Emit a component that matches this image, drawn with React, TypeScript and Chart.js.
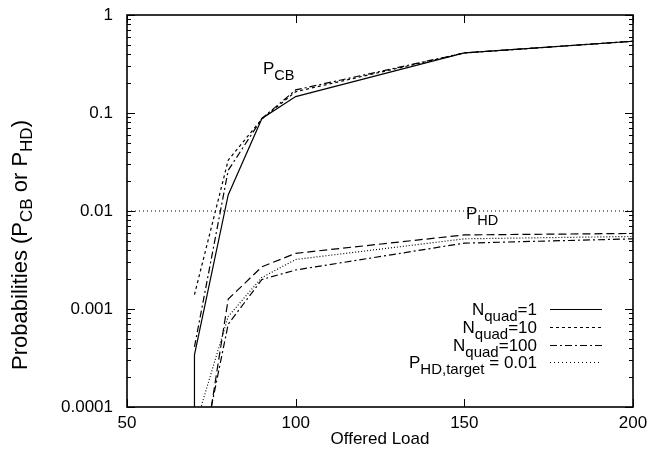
import React, { useEffect, useRef } from "react";
import { Chart, registerables } from "chart.js";

Chart.register(...registerables);

// ---- data ----
const pcbN1Loads = [70, 70, 80, 90, 100, 150, 200];
const pcbN1 = [0.00001, 0.00034, 0.0146, 0.088, 0.147, 0.41, 0.54];
const pcbN10Loads = [70, 80, 90, 100, 150, 200];
const pcbN10 = [0.0014, 0.033, 0.087, 0.165, 0.41, 0.54];
const pcbN100Loads = [70, 80, 90, 100, 150, 200];
const pcbN100 = [0.00041, 0.026, 0.088, 0.172, 0.41, 0.54];

const phdN10Loads = [75, 80, 90, 100, 150, 200];
const phdN10 = [0.0001, 0.00126, 0.0027, 0.0037, 0.0057, 0.0059];
const phdN1Loads = [70, 80, 90, 100, 150, 200];
const phdN1 = [0.00006, 0.00084, 0.0021, 0.0032, 0.0052, 0.0055];
const phdN100Loads = [75, 80, 90, 100, 150, 200];
const phdN100 = [0.0001, 0.0007, 0.002, 0.0025, 0.0047, 0.0052];

const targetLoads = [50, 200];
const targetValues = [0.01, 0.01];

const yTickValues = [0.0001, 0.001, 0.01, 0.1, 1];
const yTickLabels = ["0.0001", "0.001", "0.01", "0.1", "1"];
const xTickValues = [50, 100, 150, 200];

const xTitle = "Offered Load";
const yTitleParts = [
  { t: "Probabilities (P" },
  { t: "CB", sub: true },
  { t: " or P" },
  { t: "HD", sub: true },
  { t: ")" },
];
const legendEntries = [
  [{ t: "N" }, { t: "quad", sub: true }, { t: "=1" }],
  [{ t: "N" }, { t: "quad", sub: true }, { t: "=10" }],
  [{ t: "N" }, { t: "quad", sub: true }, { t: "=100" }],
  [{ t: "P" }, { t: "HD,target", sub: true }, { t: " = 0.01" }],
];
const pcbLabel = [{ t: "P" }, { t: "CB", sub: true }];
const phdLabel = [{ t: "P" }, { t: "HD", sub: true }];

// ---- drawing helpers ----
const FONT = '"Liberation Sans", Arial, Helvetica, sans-serif';
type Part = { t: string; sub?: boolean };

function partsWidth(ctx: CanvasRenderingContext2D, parts: Part[], size: number, subSize: number) {
  let w = 0;
  for (const p of parts) {
    ctx.font = `${p.sub ? subSize : size}px ${FONT}`;
    w += ctx.measureText(p.t).width;
  }
  return w;
}

function drawRich(
  ctx: CanvasRenderingContext2D,
  x: number,
  y: number,
  parts: Part[],
  size: number,
  subSize: number,
  subDy: number,
  align: "left" | "right" | "center"
) {
  const w = partsWidth(ctx, parts, size, subSize);
  let cx = align === "right" ? x - w : align === "center" ? x - w / 2 : x;
  ctx.textAlign = "left";
  ctx.textBaseline = "alphabetic";
  ctx.fillStyle = "#000";
  for (const p of parts) {
    ctx.font = `${p.sub ? subSize : size}px ${FONT}`;
    ctx.fillText(p.t, cx, y + (p.sub ? subDy : 0));
    cx += ctx.measureText(p.t).width;
  }
}

const toPts = (xs: number[], ys: number[]) => xs.map((x, i) => ({ x, y: ys[i] }));

const DASH_N1: number[] = [];
const DASH_N10 = [3, 3];
const DASH_N100 = [7, 3, 2, 3];
const DASH_TARGET = [1, 3];

const zeroPad = (s: any) => {
  s.paddingTop = 0;
  s.paddingBottom = 0;
  s.paddingLeft = 0;
  s.paddingRight = 0;
};

const overlayPlugin = {
  id: "overlay",
  afterDraw(chart: any) {
    const ctx: CanvasRenderingContext2D = chart.ctx;
    const { left, right, top, bottom } = chart.chartArea;
    const xs = chart.scales.x;
    const ys = chart.scales.y;
    ctx.save();
    ctx.strokeStyle = "#000";
    // ticks
    ctx.lineWidth = 1;
    ctx.beginPath();
    for (const v of xTickValues) {
      const px = Math.round(xs.getPixelForValue(v)) + 0.5;
      ctx.moveTo(px, bottom);
      ctx.lineTo(px, bottom - 8);
      ctx.moveTo(px, top);
      ctx.lineTo(px, top + 8);
    }
    for (let e = -4; e <= 0; e++) {
      const py = Math.round(ys.getPixelForValue(Math.pow(10, e))) + 0.5;
      ctx.moveTo(left, py);
      ctx.lineTo(left + 8, py);
      ctx.moveTo(right, py);
      ctx.lineTo(right - 8, py);
      if (e < 0) {
        for (let m = 2; m <= 9; m++) {
          const pm = Math.round(ys.getPixelForValue(m * Math.pow(10, e))) + 0.5;
          ctx.moveTo(left, pm);
          ctx.lineTo(left + 4, pm);
          ctx.moveTo(right, pm);
          ctx.lineTo(right - 4, pm);
        }
      }
    }
    ctx.stroke();
    // border
    ctx.lineWidth = 1.6;
    ctx.strokeRect(left, top, right - left, bottom - top);

    // axis titles
    ctx.fillStyle = "#000";
    ctx.font = `17px ${FONT}`;
    ctx.textAlign = "center";
    ctx.textBaseline = "alphabetic";
    ctx.fillText(xTitle, (left + right) / 2, 444);

    ctx.save();
    ctx.translate(27, 245);
    ctx.rotate(-Math.PI / 2);
    drawRich(ctx, 0, 0, yTitleParts, 22, 17, 5, "center");
    ctx.restore();

    // annotations
    drawRich(ctx, 263, 74, pcbLabel, 17, 14.5, 6, "left");
    drawRich(ctx, 466, 219, phdLabel, 17, 14.5, 6, "left");

    // legend
    const dashes = [DASH_N1, DASH_N10, DASH_N100, DASH_TARGET];
    const rowBase = [315, 333, 351, 368];
    legendEntries.forEach((parts, i) => {
      drawRich(ctx, 537, rowBase[i], parts, 17, 15, 6, "right");
      const ly = rowBase[i] - 6 + 0.5;
      ctx.save();
      ctx.lineWidth = 1.2;
      ctx.setLineDash(dashes[i]);
      ctx.beginPath();
      ctx.moveTo(550, ly);
      ctx.lineTo(602, ly);
      ctx.stroke();
      ctx.restore();
    });
    ctx.restore();
  },
};

export default function App() {
  const ref = useRef<HTMLCanvasElement | null>(null);
  useEffect(() => {
    if (!ref.current) return;
    const line = (label: string, pts: any[], dash: number[]) => ({
      label,
      data: pts,
      borderColor: "#000",
      borderWidth: 1.2,
      borderDash: dash,
      pointRadius: 0,
      tension: 0,
      fill: false,
    });
    const chart = new Chart(ref.current, {
      type: "line",
      data: {
        datasets: [
          line("PCB Nquad=1", toPts(pcbN1Loads, pcbN1), DASH_N1),
          line("PCB Nquad=10", toPts(pcbN10Loads, pcbN10), DASH_N10),
          line("PCB Nquad=100", toPts(pcbN100Loads, pcbN100), DASH_N100),
          line("PHD,target = 0.01", toPts(targetLoads, targetValues), DASH_TARGET),
          line("PHD Nquad=10", toPts(phdN10Loads, phdN10), [8, 4]),
          line("PHD Nquad=1", toPts(phdN1Loads, phdN1), [1, 2]),
          line("PHD Nquad=100", toPts(phdN100Loads, phdN100), DASH_N100),
        ],
      },
      options: {
        animation: false,
        responsive: false,
        devicePixelRatio: 1,
        layout: { padding: { top: 15, right: 16, left: 0, bottom: 0 } },
        plugins: { legend: { display: false }, tooltip: { enabled: false } },
        scales: {
          x: {
            type: "linear",
            min: 50,
            max: 200,
            afterFit: (s: any) => {
              s.height = 45;
              zeroPad(s);
            },
            afterBuildTicks: (s: any) => {
              s.ticks = xTickValues.map((v) => ({ value: v }));
            },
            grid: { display: false, drawTicks: false },
            border: { display: false },
            ticks: {
              padding: 6,
              maxRotation: 0,
              autoSkip: false,
              color: "#000",
              font: { family: FONT, size: 17 },
            },
          },
          y: {
            type: "logarithmic",
            min: 0.0001,
            max: 1,
            afterFit: (s: any) => {
              s.width = 127;
              zeroPad(s);
            },
            afterBuildTicks: (s: any) => {
              s.ticks = yTickValues.map((v) => ({ value: v }));
            },
            grid: { display: false, drawTicks: false },
            border: { display: false },
            ticks: {
              padding: 14,
              autoSkip: false,
              color: "#000",
              font: { family: FONT, size: 17 },
              callback: (v: any) => {
                const i = yTickValues.findIndex((t) => Math.abs(t - Number(v)) < t * 1e-6);
                return i >= 0 ? yTickLabels[i] : "";
              },
            },
          },
        },
      },
      plugins: [overlayPlugin],
    });
    return () => chart.destroy();
  }, []);
  return (
    <div style={{ position: "fixed", left: 0, top: 0, width: 649, height: 452, background: "#fff" }}>
      <canvas ref={ref} width={649} height={452} />
    </div>
  );
}
